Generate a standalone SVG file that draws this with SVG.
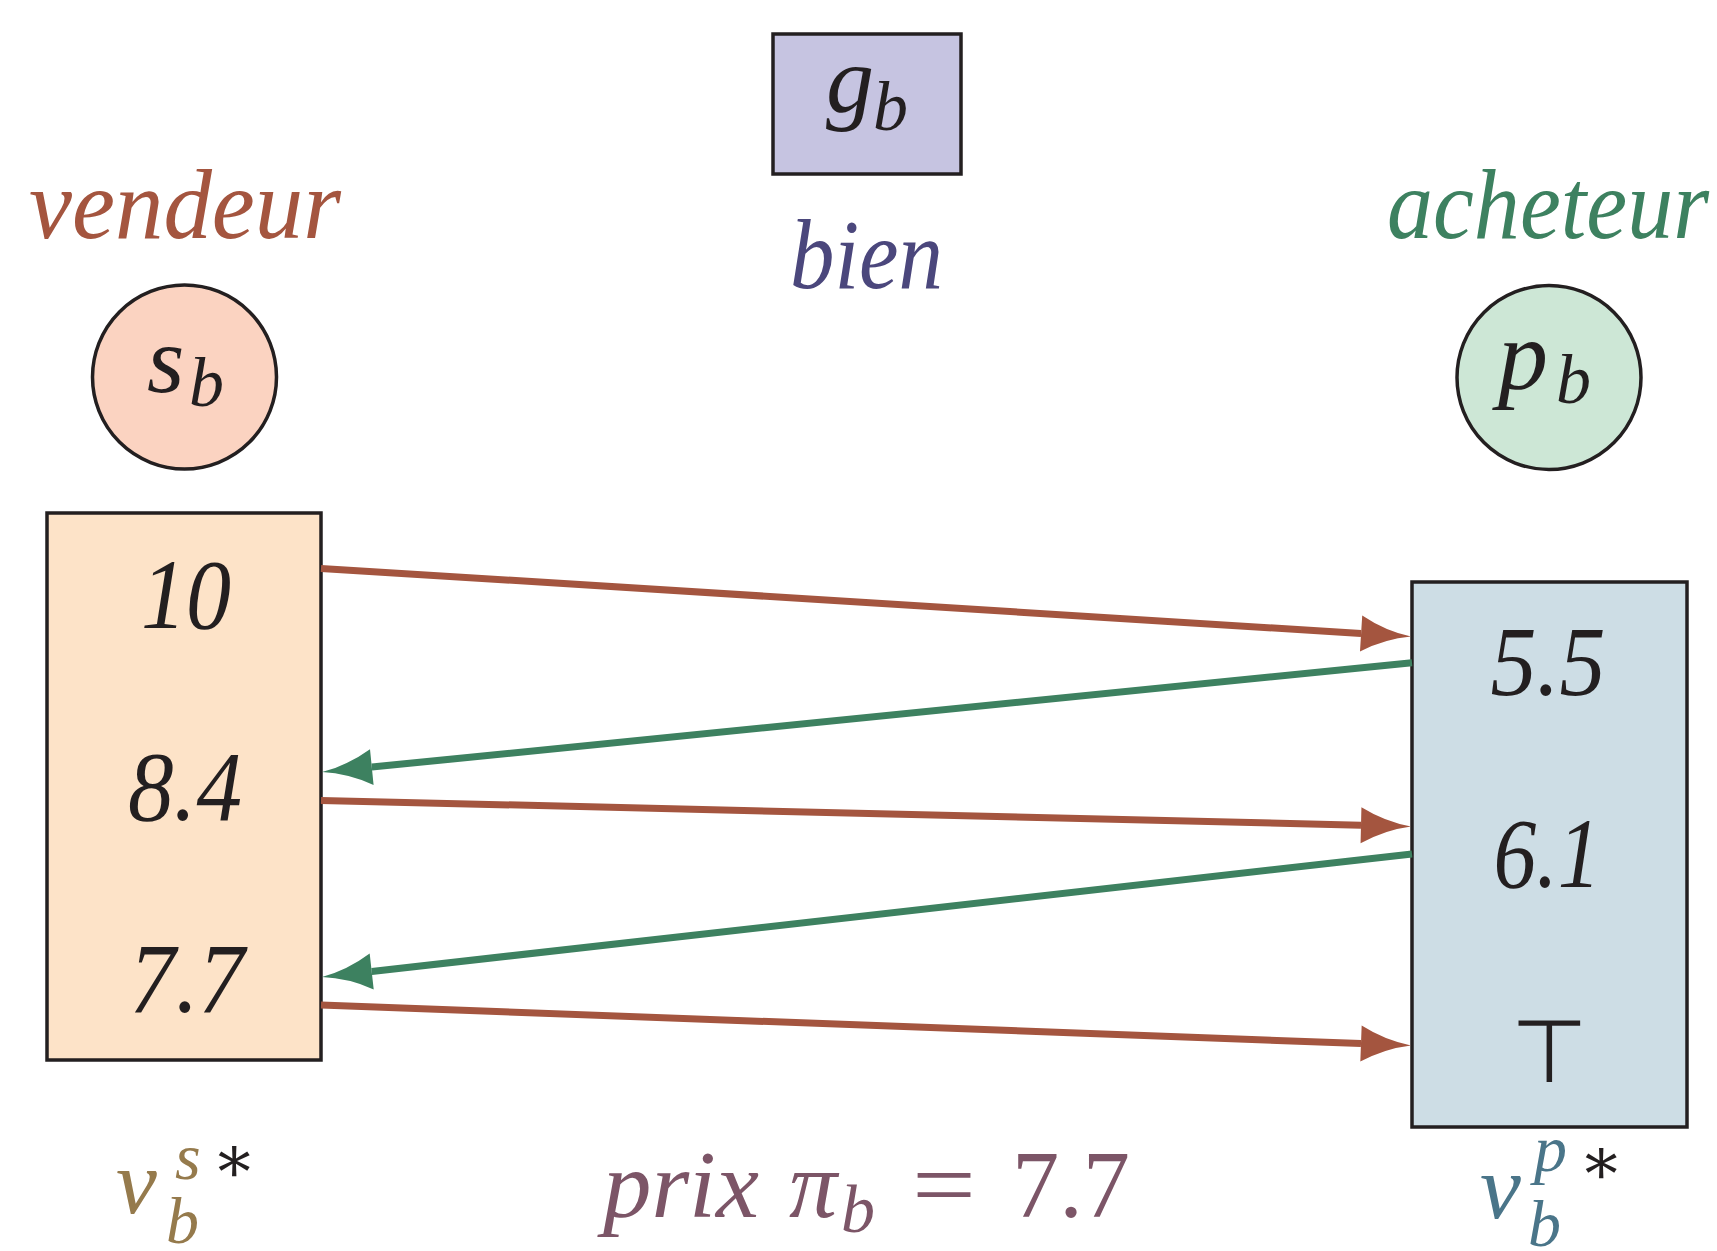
<svg xmlns="http://www.w3.org/2000/svg" width="1717" height="1251" viewBox="0 0 1717 1251">
<style>
.it{font-family:"Liberation Serif","DejaVu Serif",serif;font-style:italic;}
.up{font-family:"Liberation Serif","DejaVu Serif",serif;font-style:normal;}
.blk{fill:#231f20;}
.shape{stroke:#231f20;stroke-width:3.5;}
.red{stroke:#a4553f;stroke-width:7;fill:none;}
.green{stroke:#3d8160;stroke-width:7;fill:none;}
</style>
<defs>
<marker id="ahRed" markerUnits="userSpaceOnUse" markerWidth="60" markerHeight="40" refX="0" refY="0" orient="auto" overflow="visible">
<path d="M0,-18 Q24,-4 50,0 Q24,4 0,18 Z" fill="#a4553f"/>
</marker>
<marker id="ahGreen" markerUnits="userSpaceOnUse" markerWidth="60" markerHeight="40" refX="0" refY="0" orient="auto" overflow="visible">
<path d="M0,-18 Q24,-4 50,0 Q24,4 0,18 Z" fill="#3d8160"/>
</marker>
</defs>
<rect width="1717" height="1251" fill="#ffffff"/>

<g id="label-vendeur">
<text class="it" x="29" y="238" font-size="100" fill="#a4553f" textLength="312" lengthAdjust="spacingAndGlyphs">vendeur</text>
</g>
<g id="label-acheteur">
<text class="it" x="1387" y="238" font-size="100" fill="#3d8160" textLength="322" lengthAdjust="spacingAndGlyphs">acheteur</text>
</g>
<g id="label-bien">
<text class="it" x="790" y="288" font-size="100" fill="#4b477c" textLength="153" lengthAdjust="spacingAndGlyphs">bien</text>
</g>

<g id="node-gb">
<rect class="shape" x="773" y="34" width="188" height="140" fill="#c6c4e1"/>
<text class="it blk" x="826" y="112" font-size="96">g</text>
<text class="it blk" x="873" y="130" font-size="70">b</text>
</g>

<g id="node-sb">
<circle class="shape" cx="184.5" cy="377" r="92" fill="#fbd3c1"/>
<text class="it blk" x="147" y="392" font-size="96">s</text>
<text class="it blk" x="189" y="406" font-size="70">b</text>
</g>

<g id="node-pb">
<circle class="shape" cx="1549" cy="377.5" r="92" fill="#cde7d6"/>
<text class="it blk" x="1498" y="389" font-size="100">p</text>
<text class="it blk" x="1556" y="403" font-size="70">b</text>
</g>

<g id="node-seller-bids">
<rect class="shape" x="47" y="513" width="274" height="547" fill="#fde3c8"/>
<text class="it blk" x="186" y="628" font-size="100" text-anchor="middle" textLength="90" lengthAdjust="spacingAndGlyphs">10</text>
<text class="it blk" x="185" y="820" font-size="100" text-anchor="middle" textLength="114" lengthAdjust="spacingAndGlyphs">8.4</text>
<text class="it blk" x="187" y="1012" font-size="100" text-anchor="middle" textLength="115" lengthAdjust="spacingAndGlyphs">7.7</text>
</g>

<g id="node-buyer-bids">
<rect class="shape" x="1412" y="582" width="275" height="545" fill="#cddde5"/>
<text class="it blk" x="1548" y="695" font-size="100" text-anchor="middle" textLength="115" lengthAdjust="spacingAndGlyphs">5.5</text>
<text class="it blk" x="1547" y="887" font-size="100" text-anchor="middle" textLength="107" lengthAdjust="spacingAndGlyphs">6.1</text>
<text class="blk" x="1549" y="1082" font-size="88" text-anchor="middle" font-family="DejaVu Sans ExtraLight, DejaVu Sans, sans-serif" font-weight="200">⊤</text>
</g>

<g id="connectors">
<line class="red" x1="321" y1="568.4" x2="1361.1" y2="633.5" marker-end="url(#ahRed)"/>
<line class="green" x1="1412" y1="662.8" x2="371.8" y2="767.1" marker-end="url(#ahGreen)"/>
<line class="red" x1="321" y1="800.4" x2="1361" y2="825.2" marker-end="url(#ahRed)"/>
<line class="green" x1="1412" y1="854" x2="371.7" y2="971.5" marker-end="url(#ahGreen)"/>
<line class="red" x1="321" y1="1005" x2="1361" y2="1043.6" marker-end="url(#ahRed)"/>
</g>

<g id="label-nu-s">
<text class="it" x="116" y="1213" font-size="92" fill="#957a4c">ν</text>
<text class="it" x="166" y="1243" font-size="66" fill="#957a4c">b</text>
<text class="it" x="175" y="1179" font-size="66" fill="#957a4c">s</text>
<text class="up blk" x="212" y="1182" font-size="66">∗</text>
</g>

<g id="label-prix">
<text class="it" x="603" y="1217" font-size="96" fill="#7c5567" textLength="156" lengthAdjust="spacingAndGlyphs">prix</text>
<text class="it" x="789" y="1217" font-size="96" fill="#7c5567">π</text>
<text class="it" x="841" y="1232" font-size="68" fill="#7c5567">b</text>
<text class="up" x="912" y="1217" font-size="96" fill="#7c5567" textLength="64" lengthAdjust="spacingAndGlyphs">=</text>
<text class="up" x="1012" y="1217" font-size="96" fill="#7c5567" textLength="118" lengthAdjust="spacingAndGlyphs">7.7</text>
</g>

<g id="label-nu-p">
<text class="it" x="1480" y="1218" font-size="92" fill="#4a7589">ν</text>
<text class="it" x="1528" y="1246" font-size="66" fill="#4a7589">b</text>
<text class="it" x="1534" y="1171" font-size="66" fill="#4a7589">p</text>
<text class="up blk" x="1579" y="1184" font-size="66">∗</text>
</g>
</svg>
